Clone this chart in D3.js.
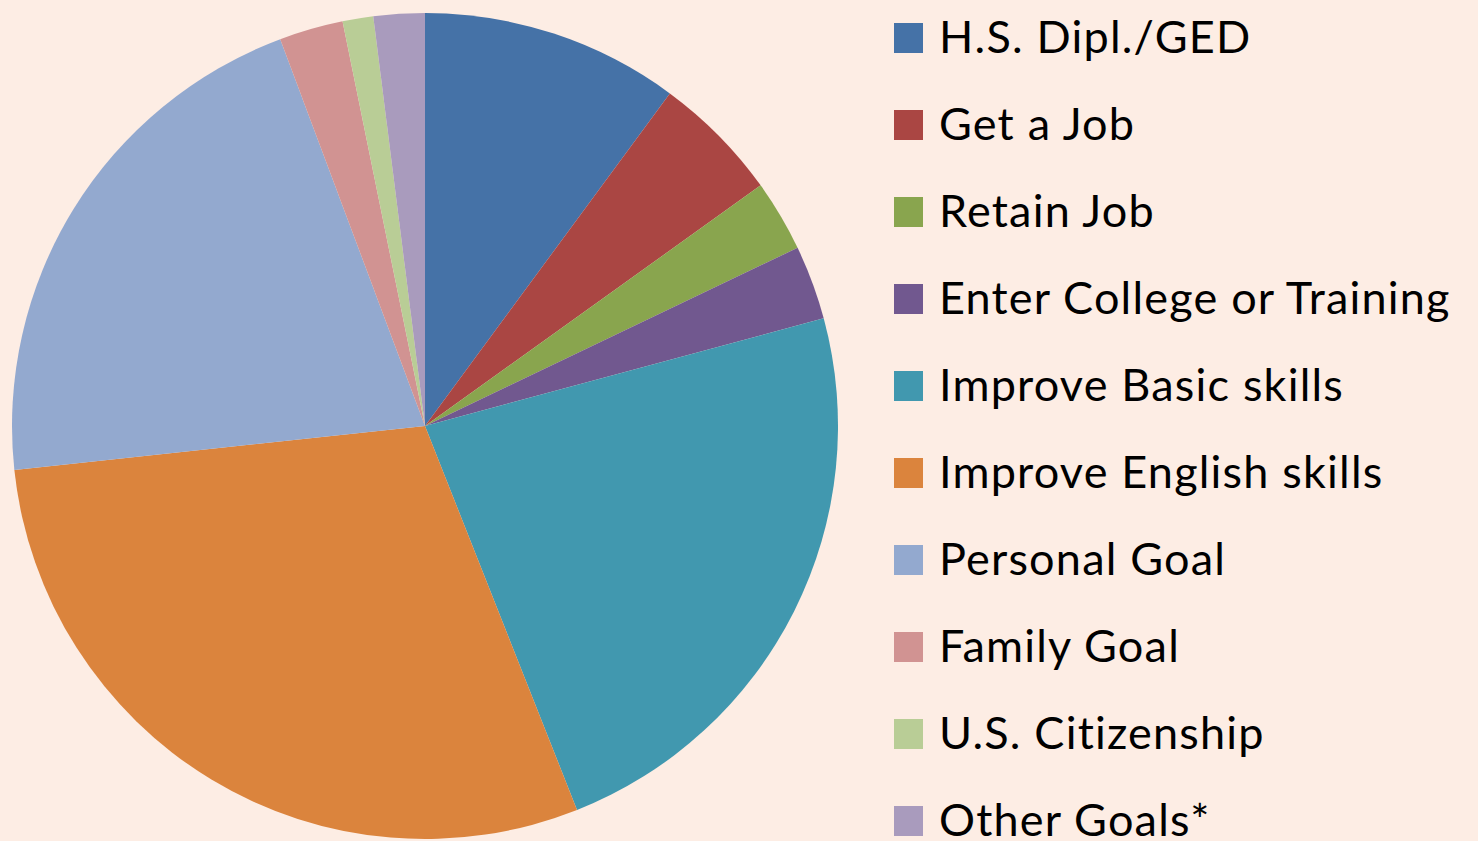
<!DOCTYPE html>
<html>
<head>
<meta charset="utf-8">
<script src="https://cdn.jsdelivr.net/npm/d3@7"></script>
<style>
  html, body { margin: 0; padding: 0; background: #fdede4; }
  svg { display: block; }
</style>
</head>
<body>
<script>
// goals and their shares (percent)
const goals = [
  "H.S. Dipl./GED", "Get a Job", "Retain Job", "Enter College or Training",
  "Improve Basic skills", "Improve English skills", "Personal Goal",
  "Family Goal", "U.S. Citizenship", "Other Goals*"
];
const shares = [10.1, 5.0, 2.8, 2.9, 23.2, 29.3, 21.0, 2.5, 1.2, 2.0];
const colors = [
  "#4572a7", "#aa4643", "#89a54e", "#71588f", "#4198af",
  "#db843d", "#93a9cf", "#d19392", "#b9cd96", "#a99bbd"
];

let width = 1478,
    height = 841,
    cx = 425,
    cy = 426,
    radius = 413;

const data = goals.map((g, i) => ({ goal: g, value: shares[i], color: colors[i] }));

const svg = d3.select('body').append('svg')
    .attr('width', width)
    .attr('height', height);

svg.append('rect')
    .attr('width', width)
    .attr('height', height)
    .attr('fill', '#fdede4');

// pie, clockwise from 12 o'clock, no sorting
const pie = d3.pie().value(d => d.value).sort(null);
const arc = d3.arc().innerRadius(0).outerRadius(radius);

svg.append('g')
    .attr('transform', `translate(${cx},${cy})`)
    .selectAll('path')
    .data(pie(data))
    .enter().append('path')
    .attr('d', arc)
    .attr('fill', d => d.data.color);

// legend on the right (last row runs off the bottom, as in the original)
const rowY = d3.scalePoint().domain(goals).range([38, 821]);

const legend = svg.append('g')
    .selectAll('g')
    .data(data)
    .enter().append('g')
    .attr('transform', d => `translate(894,${rowY(d.goal)})`);

legend.append('rect')
    .attr('x', 0)
    .attr('y', -15)
    .attr('width', 29)
    .attr('height', 30)
    .attr('fill', d => d.color);

legend.append('text')
    .attr('x', 45)
    .attr('y', 15)
    .attr('font-family', 'Lato, sans-serif')
    .attr('font-size', 45)
    .attr('letter-spacing', 1.2)
    .attr('fill', '#000')
    .text(d => d.goal);
</script>
</body>
</html>
